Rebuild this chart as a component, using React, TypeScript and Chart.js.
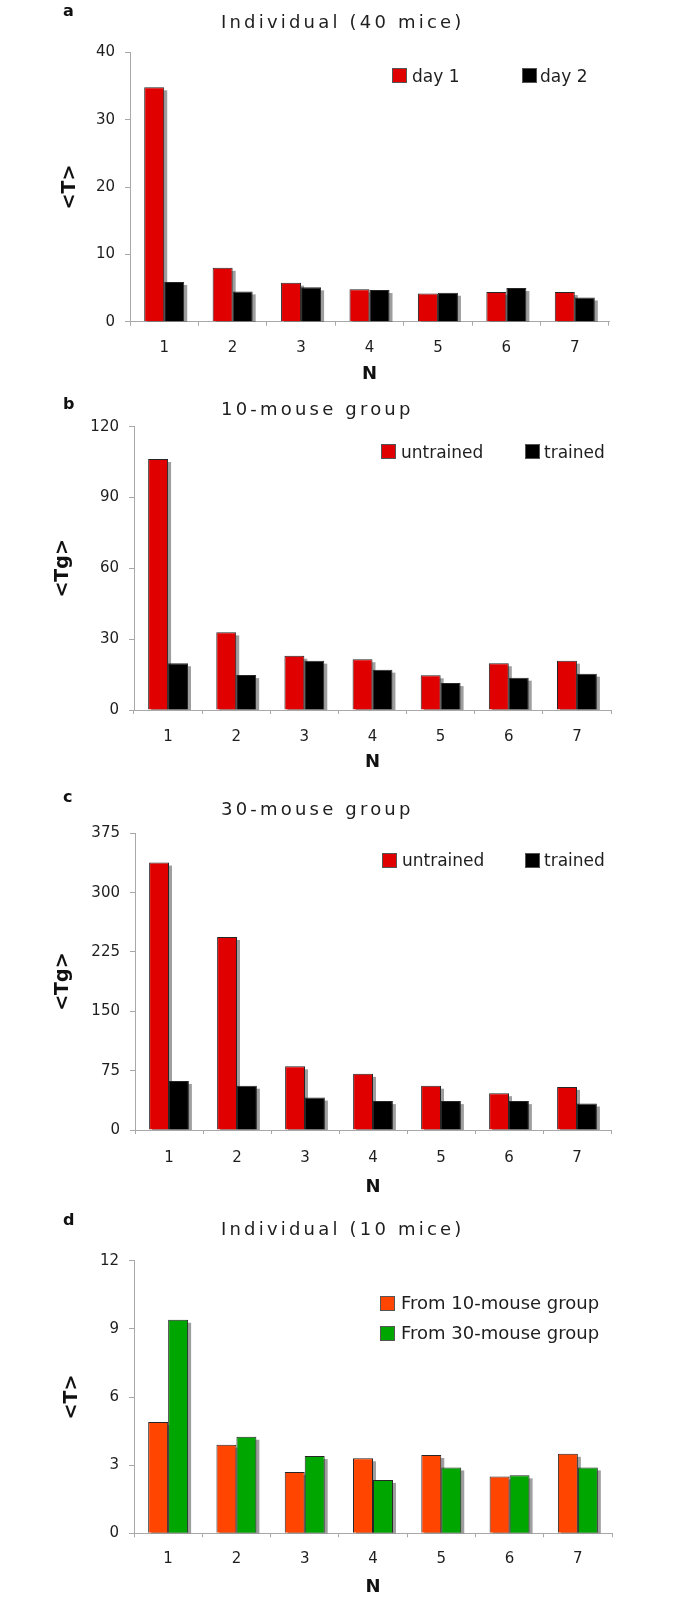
import React, { useEffect, useRef } from 'react';
import { Chart, registerables } from 'chart.js';

Chart.register(...registerables);

// ---------------- DATA ----------------
const CATEGORIES = ['1', '2', '3', '4', '5', '6', '7'];

const A_DAY1 = [34.8, 8.0, 5.8, 4.8, 4.2, 4.4, 4.4];
const A_DAY2 = [5.9, 4.5, 5.1, 4.7, 4.3, 5.0, 3.6];
const A_TICKS = [0, 10, 20, 30, 40];

const B_UNTRAINED = [106.3, 32.9, 23.0, 21.5, 14.7, 19.8, 20.9];
const B_TRAINED = [19.8, 14.8, 20.9, 17.1, 11.4, 13.7, 15.4];
const B_TICKS = [0, 30, 60, 90, 120];

const C_UNTRAINED = [338, 244, 80.5, 71, 56, 46.5, 54.5];
const C_TRAINED = [62, 56, 41, 36.5, 36.5, 36.5, 33.5];
const C_TICKS = [0, 75, 150, 225, 300, 375];

const D_FROM10 = [4.9, 3.9, 2.7, 3.3, 3.45, 2.5, 3.5];
const D_FROM30 = [9.4, 4.25, 3.4, 2.35, 2.9, 2.55, 2.9];
const D_TICKS = [0, 3, 6, 9, 12];

// ---------------- STYLE / LAYOUT ----------------
const RED = '#e00000';
const BLACK = '#000000';
const ORANGE = '#ff4500';
const GREEN = '#00a600';
const AXIS_COLOR = '#a8a8a8';
const TEXT_COLOR = '#1e1e1e';
const FONT = "'DejaVu Sans', Verdana, sans-serif";
const PAGE_W = 697;

type Series = { name: string; values: number[]; color: string };
type Panel = {
  letter: string;
  title: string;
  yTitle: string;
  yTitleSize: number;
  ticks: number[];
  series: Series[];
  canvasTop: number;
  canvasH: number;
  axisLeft: number;
  axisRight: number;
  chartTop: number;
  chartBottom: number;
  xLabelY: number;
  nY: number;
  yTitleX: number;
  letterY: number;
  titleY: number;
  legendSize: number;
  legend: { x: number; textX: number; y: number }[];
};

const PANELS: Panel[] = [
  {
    letter: 'a', title: 'Individual (40 mice)', yTitle: '<T>', yTitleSize: 19, ticks: A_TICKS,
    series: [
      { name: 'day 1', values: A_DAY1, color: RED },
      { name: 'day 2', values: A_DAY2, color: BLACK },
    ],
    canvasTop: 0, canvasH: 392, axisLeft: 130, axisRight: 609, chartTop: 52.3, chartBottom: 321.7,
    xLabelY: 348.3, nY: 374, yTitleX: 70.5, letterY: 12, titleY: 21.5, legendSize: 17,
    legend: [{ x: 392, textX: 412, y: 75.5 }, { x: 522, textX: 540, y: 75.5 }],
  },
  {
    letter: 'b', title: '10-mouse group', yTitle: '<Tg>', yTitleSize: 19, ticks: B_TICKS,
    series: [
      { name: 'untrained', values: B_UNTRAINED, color: RED },
      { name: 'trained', values: B_TRAINED, color: BLACK },
    ],
    canvasTop: 392, canvasH: 388, axisLeft: 134, axisRight: 611, chartTop: 426.7, chartBottom: 710,
    xLabelY: 736.7, nY: 762, yTitleX: 63.5, letterY: 405, titleY: 409, legendSize: 17,
    legend: [{ x: 381, textX: 401, y: 451.7 }, { x: 525, textX: 544, y: 451.7 }],
  },
  {
    letter: 'c', title: '30-mouse group', yTitle: '<Tg>', yTitleSize: 19, ticks: C_TICKS,
    series: [
      { name: 'untrained', values: C_UNTRAINED, color: RED },
      { name: 'trained', values: C_TRAINED, color: BLACK },
    ],
    canvasTop: 780, canvasH: 423, axisLeft: 135, axisRight: 611, chartTop: 833.3, chartBottom: 1130,
    xLabelY: 1158.3, nY: 1187, yTitleX: 63.5, letterY: 798, titleY: 809, legendSize: 17,
    legend: [{ x: 382, textX: 402, y: 860 }, { x: 525, textX: 544, y: 860 }],
  },
  {
    letter: 'd', title: 'Individual (10 mice)', yTitle: '<T>', yTitleSize: 19, ticks: D_TICKS,
    series: [
      { name: 'From 10-mouse group', values: D_FROM10, color: ORANGE },
      { name: 'From 30-mouse group', values: D_FROM30, color: GREEN },
    ],
    canvasTop: 1203, canvasH: 396, axisLeft: 134, axisRight: 612, chartTop: 1260.7, chartBottom: 1533.3,
    xLabelY: 1559.3, nY: 1587, yTitleX: 72.5, letterY: 1221, titleY: 1229, legendSize: 18,
    legend: [{ x: 380, textX: 401, y: 1303 }, { x: 380, textX: 401, y: 1333 }],
  },
];

const TICK_SIZE = 15;
const X_TICK_LEN = 4;
const Y_TICK_LEN = 5;
const N_SIZE = 18;

const barShadow = {
  id: 'barShadow',
  beforeDatasetsDraw(chart: any) {
    const { ctx, chartArea } = chart;
    ctx.save();
    ctx.beginPath();
    ctx.rect(chartArea.left, chartArea.top - 20, chartArea.right - chartArea.left + 20, chartArea.bottom - chartArea.top + 20);
    ctx.clip();
    ctx.fillStyle = 'rgba(40,40,40,0.45)';
    chart.data.datasets.forEach((_: any, i: number) => {
      const meta = chart.getDatasetMeta(i);
      meta.data.forEach((el: any) => {
        const { x, y, base, width } = el.getProps(['x', 'y', 'base', 'width'], true);
        ctx.fillRect(x - width / 2 + 3, Math.min(y, base) + 3, width, Math.abs(base - y));
      });
    });
    ctx.restore();
  },
};

function PanelChart({ p }: { p: Panel }) {
  const ref = useRef<HTMLCanvasElement | null>(null);
  useEffect(() => {
    if (!ref.current) return;
    const canvasBottom = p.canvasTop + p.canvasH;
    const tickLH = TICK_SIZE * 1.2;
    const chart = new Chart(ref.current, {
      type: 'bar',
      data: {
        labels: CATEGORIES,
        datasets: p.series.map((s) => ({
          label: s.name,
          data: s.values,
          backgroundColor: s.color,
          borderColor: '#262626',
          borderWidth: 1,
          borderSkipped: 'start',
          categoryPercentage: 0.585,
          barPercentage: 1.0,
        })),
      },
      options: {
        responsive: false,
        animation: false,
        devicePixelRatio: 1,
        layout: {
          padding: { top: p.chartTop - p.canvasTop, right: PAGE_W - p.axisRight, left: 0, bottom: 0 },
        },
        plugins: {
          legend: { display: false },
          title: { display: false },
          tooltip: { enabled: false },
        },
        scales: {
          x: {
            grid: { drawOnChartArea: false, drawTicks: true, tickLength: X_TICK_LEN, color: AXIS_COLOR, offset: true },
            border: { display: true, color: AXIS_COLOR },
            ticks: {
              font: { family: FONT, size: TICK_SIZE },
              color: TEXT_COLOR,
              padding: p.xLabelY - p.chartBottom - X_TICK_LEN - tickLH / 2,
              maxRotation: 0,
            },
            title: {
              display: true,
              text: 'N',
              color: '#111',
              font: { family: FONT, size: N_SIZE, weight: 'bold' },
              padding: { top: 0, bottom: canvasBottom - p.nY - (N_SIZE * 1.2) / 2 },
            },
            afterFit: (s: any) => {
              s.height = canvasBottom - p.chartBottom;
            },
          },
          y: {
            min: p.ticks[0],
            max: p.ticks[p.ticks.length - 1],
            afterBuildTicks: (s: any) => {
              s.ticks = p.ticks.map((v) => ({ value: v }));
            },
            grid: { drawOnChartArea: false, drawTicks: true, tickLength: Y_TICK_LEN, color: AXIS_COLOR },
            border: { display: true, color: AXIS_COLOR },
            ticks: {
              font: { family: FONT, size: TICK_SIZE },
              color: TEXT_COLOR,
              padding: 10,
            },
            title: {
              display: true,
              text: p.yTitle,
              color: '#111',
              font: { family: FONT, size: p.yTitleSize, weight: 'bold' },
              padding: { top: p.yTitleX - (p.yTitleSize * 1.2) / 2, bottom: 0 },
            },
            afterFit: (s: any) => {
              s.width = p.axisLeft;
            },
          },
        },
      } as any,
      plugins: [barShadow],
    });
    return () => chart.destroy();
  }, [p]);

  return (
    <>
      <canvas
        ref={ref}
        width={PAGE_W}
        height={p.canvasH}
        style={{ position: 'absolute', left: 0, top: p.canvasTop, width: PAGE_W, height: p.canvasH }}
      />
      <div
        style={{
          position: 'absolute', left: 63, top: p.letterY - 11, height: 20, lineHeight: '20px',
          fontFamily: FONT, fontWeight: 'bold', fontSize: 16, color: '#111',
        }}
      >
        {p.letter}
      </div>
      <div
        style={{
          position: 'absolute', left: 221, top: p.titleY - 12, height: 24, lineHeight: '24px',
          fontFamily: FONT, fontSize: 18, letterSpacing: '3.2px', color: TEXT_COLOR, whiteSpace: 'nowrap',
        }}
      >
        {p.title}
      </div>
      {p.series.map((s, i) => (
        <React.Fragment key={s.name}>
          <div
            style={{
              position: 'absolute', left: p.legend[i].x, top: p.legend[i].y - 7.5, width: 13, height: 13,
              background: s.color, border: '1px solid #555',
            }}
          />
          <div
            style={{
              position: 'absolute', left: p.legend[i].textX, top: p.legend[i].y - 10, height: 20, lineHeight: '20px',
              fontFamily: FONT, fontSize: p.legendSize, color: TEXT_COLOR, whiteSpace: 'nowrap',
            }}
          >
            {s.name}
          </div>
        </React.Fragment>
      ))}
    </>
  );
}

export default function App() {
  return (
    <div style={{ position: 'absolute', left: 0, top: 0, width: PAGE_W, height: 1599, background: '#fff', overflow: 'hidden' }}>
      {PANELS.map((p) => (
        <PanelChart key={p.letter} p={p} />
      ))}
    </div>
  );
}
